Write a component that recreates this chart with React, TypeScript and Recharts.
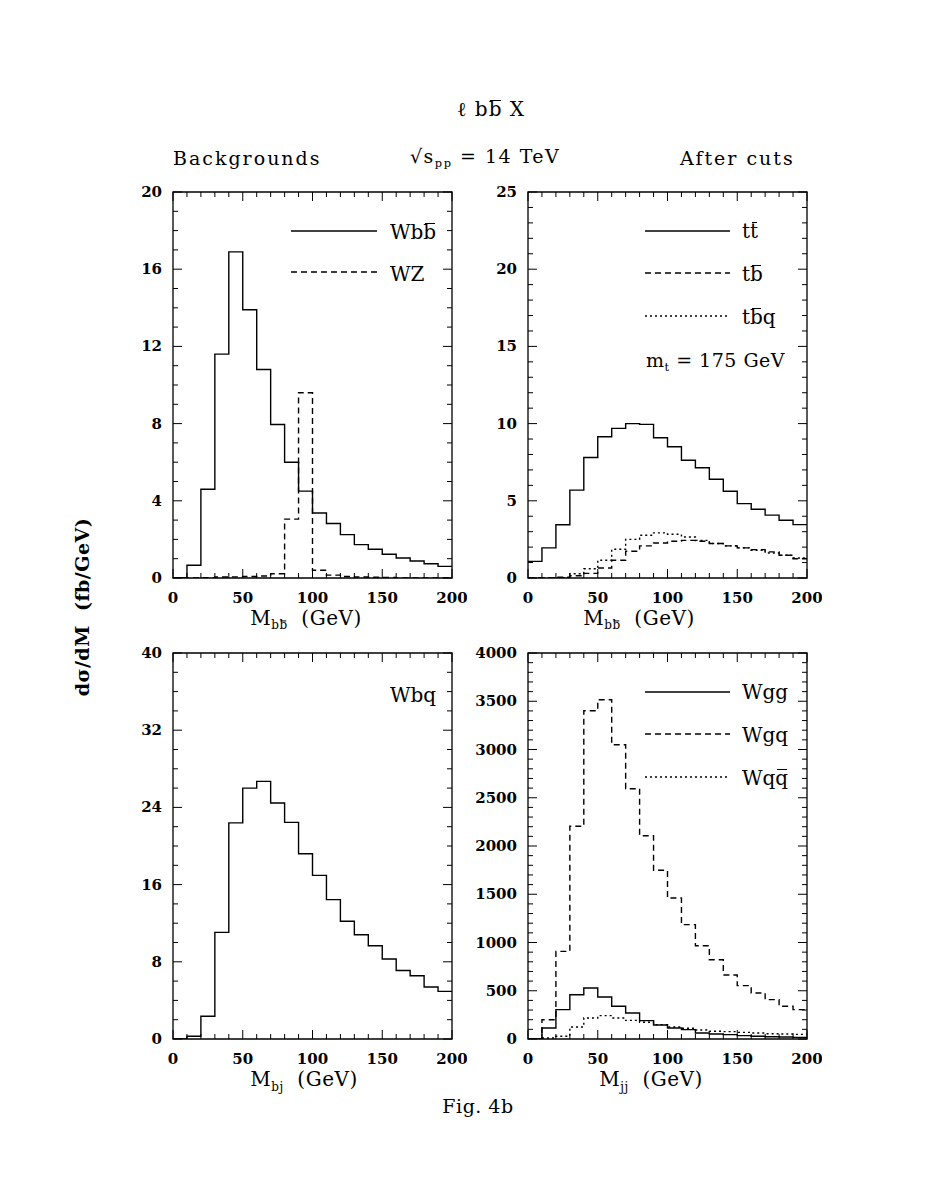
import React from 'react';
import { LineChart, Line, XAxis, YAxis, ReferenceArea } from 'recharts';

// bin lower edges (GeV), last entry closes the histogram at 200
const binEdges = [0, 10, 20, 30, 40, 50, 60, 70, 80, 90, 100, 110, 120, 130, 140, 150, 160, 170, 180, 190, 200];

// top left: Wbb and WZ (fb/GeV)
const wbbValues = [0, 0.66, 4.6, 11.6, 16.9, 13.9, 10.8, 7.95, 6.0, 4.5, 3.37, 2.82, 2.25, 1.73, 1.49, 1.23, 1.04, 0.88, 0.74, 0.6];
const wzValues = [0, 0, 0.02, 0.05, 0.06, 0.08, 0.1, 0.22, 3.05, 9.6, 0.4, 0.15, 0.08, 0.05, 0.04, 0.03, 0, 0, 0, 0];

// top right: tt, tb, tbq
const ttValues = [1.08, 1.95, 3.45, 5.69, 7.8, 9.15, 9.69, 10.0, 9.95, 9.08, 8.5, 7.63, 7.14, 6.4, 5.62, 4.82, 4.45, 4.07, 3.74, 3.46];
const tbValues = [0, 0, 0.05, 0.15, 0.3, 0.65, 1.15, 1.73, 2.08, 2.27, 2.38, 2.44, 2.38, 2.23, 2.08, 1.95, 1.84, 1.69, 1.47, 1.25];
const tbqValues = [0, 0, 0.02, 0.28, 0.6, 1.15, 1.86, 2.5, 2.77, 2.92, 2.83, 2.66, 2.44, 2.23, 2.08, 1.95, 1.8, 1.62, 1.47, 1.3];

// bottom left: Wbq
const wbqValues = [0, 0.28, 2.35, 11.05, 22.4, 26.0, 26.7, 24.45, 22.45, 19.2, 16.96, 14.44, 12.2, 10.8, 9.67, 8.29, 7.1, 6.56, 5.39, 4.94];

// bottom right: Wgg, Wgq, Wqq
const wggValues = [0, 114, 304, 459, 528, 435, 339, 269, 190, 145, 114, 97, 62, 52, 45, 35, 28, 24, 21, 17];
const wgqValues = [0, 200, 908, 2204, 3402, 3516, 3050, 2594, 2107, 1748, 1461, 1185, 967, 822, 663, 553, 477, 408, 339, 304];
const wqqValues = [0, 10, 28, 124, 218, 242, 218, 193, 173, 149, 124, 111, 93, 80, 76, 69, 62, 55, 52, 48];

// axis ticks
const xMajorTicks = [0, 50, 100, 150, 200];
const xMinorStep = 10;
const yTicksTL = [0, 4, 8, 12, 16, 20];
const yTicksTR = [0, 5, 10, 15, 20, 25];
const yTicksBL = [0, 8, 16, 24, 32, 40];
const yTicksBR = [0, 500, 1000, 1500, 2000, 2500, 3000, 3500, 4000];

const FONT = '"DejaVu Serif", "Liberation Serif", serif';
const PW = 279;
const PH = 386;
const ML = 70;
const MT = 15;
const MR = 15;
const MB = 35;

const stepsOf = (max: number, step: number) => {
  const out: number[] = [];
  for (let v = 0; v <= max + 1e-9; v += step) out.push(Math.round(v * 1000) / 1000);
  return out;
};

const toRows = (series: Record<string, (number | null)[]>) =>
  binEdges.map((x, i) => {
    const row: any = { x };
    Object.keys(series).forEach((k) => {
      row[k] = series[k][Math.min(i, series[k].length - 1)];
    });
    return row;
  });

type SeriesDef = { key: string; values: (number | null)[]; dash?: string };

const Panel = ({ left, top, yTicks, yMinor, series }: { left: number; top: number; yTicks: number[]; yMinor: number; series: SeriesDef[] }) => {
  const yMax = yTicks[yTicks.length - 1];
  const rows = toRows(Object.fromEntries(series.map((s) => [s.key, s.values])));
  const plotB = MT + PH;
  const plotR = ML + PW;

  const xTick = (p: any) => {
    const v = p.payload.value;
    const major = xMajorTicks.includes(v);
    const len = major ? 9 : 5;
    return (
      <g>
        <line x1={p.x} x2={p.x} y1={plotB} y2={plotB - len} stroke="#000" strokeWidth={1} />
        <line x1={p.x} x2={p.x} y1={MT} y2={MT + len} stroke="#000" strokeWidth={1} />
        {major && (
          <text x={p.x} y={plotB + 20} textAnchor="middle" dominantBaseline="central" fontFamily={FONT} fontWeight="bold" fontSize={15} fill="#000">
            {v}
          </text>
        )}
      </g>
    );
  };

  const yTick = (p: any) => {
    const v = p.payload.value;
    const major = yTicks.includes(v);
    const len = major ? 9 : 5;
    return (
      <g>
        <line x1={ML} x2={ML + len} y1={p.y} y2={p.y} stroke="#000" strokeWidth={1} />
        <line x1={plotR} x2={plotR - len} y1={p.y} y2={p.y} stroke="#000" strokeWidth={1} />
        {major && (
          <text x={ML - 11} y={p.y} textAnchor="end" dominantBaseline="central" fontFamily={FONT} fontWeight="bold" fontSize={15} fill="#000">
            {v}
          </text>
        )}
      </g>
    );
  };

  return (
    <div style={{ position: 'absolute', left: left - ML, top: top - MT }}>
      <LineChart width={ML + PW + MR} height={MT + PH + MB} data={rows} margin={{ top: MT, right: MR, left: 0, bottom: 0 }}>
        <XAxis dataKey="x" type="number" domain={[0, 200]} ticks={stepsOf(200, xMinorStep)} interval={0} tickLine={false} axisLine={false} height={MB} tick={xTick} allowDataOverflow />
        <YAxis type="number" domain={[0, yMax]} ticks={stepsOf(yMax, yMinor)} interval={0} tickLine={false} axisLine={false} width={ML} tick={yTick} allowDataOverflow />
        <ReferenceArea x1={0} x2={200} y1={0} y2={yMax} fill="none" stroke="#000" strokeWidth={1.3} ifOverflow="visible" />
        {series.map((s) => (
          <Line
            key={s.key}
            type="stepAfter"
            dataKey={s.key}
            stroke="#000"
            strokeWidth={1.4}
            strokeDasharray={s.dash}
            dot={false}
            activeDot={false}
            isAnimationActive={false}
          />
        ))}
      </LineChart>
    </div>
  );
};

const Txt = ({ x, y, size = 19, bold = false, anchor = 'left', spacing = 0, children }: any) => (
  <div
    style={{
      position: 'absolute',
      left: x,
      top: y,
      transform: anchor === 'center' ? 'translate(-50%, -50%)' : 'translate(0, -50%)',
      fontFamily: FONT,
      fontSize: size,
      fontWeight: bold ? 'bold' : 'normal',
      letterSpacing: spacing,
      lineHeight: 1,
      whiteSpace: 'nowrap',
      color: '#000',
    }}
  >
    {children}
  </div>
);

// letter with a bar just above it
const bar = (c: string) => (
  <span style={{ position: 'relative', display: 'inline-block' }}>
    {c}
    <span style={{ position: 'absolute', left: '0.08em', right: '0.08em', top: '0.06em', borderTop: '1.5px solid #000' }} />
  </span>
);
const sub = (c: React.ReactNode) => <sub style={{ fontSize: '0.6em', verticalAlign: '-0.35em' }}>{c}</sub>;

// legend sample lines: [x1, x2, y, dash]
const legendLines: [number, number, number, string | undefined][] = [
  [291, 377, 231, undefined],
  [291, 377, 272, '6 4'],
  [645, 730, 231, undefined],
  [645, 730, 273, '6 4'],
  [645, 730, 316, '2 3'],
  [645, 730, 692, undefined],
  [645, 730, 734, '6 4'],
  [645, 730, 777, '2 3'],
];

export default function App() {
  return (
    <div style={{ position: 'absolute', left: 0, top: 0, width: 927, height: 1199, background: '#fff', overflow: 'hidden' }}>
      <Panel left={173} top={192} yTicks={yTicksTL} yMinor={1} series={[{ key: 'wbb', values: wbbValues }, { key: 'wz', values: wzValues, dash: '6 4' }]} />
      <Panel left={528} top={192} yTicks={yTicksTR} yMinor={1} series={[{ key: 'tt', values: ttValues }, { key: 'tb', values: tbValues, dash: '6 4' }, { key: 'tbq', values: tbqValues, dash: '2 3' }]} />
      <Panel left={173} top={653} yTicks={yTicksBL} yMinor={2} series={[{ key: 'wbq', values: wbqValues }]} />
      <Panel left={528} top={653} yTicks={yTicksBR} yMinor={100} series={[{ key: 'wgg', values: wggValues }, { key: 'wgq', values: wgqValues, dash: '6 4' }, { key: 'wqq', values: wqqValues, dash: '2 3' }]} />

      <svg width={927} height={1199} style={{ position: 'absolute', left: 0, top: 0, pointerEvents: 'none' }}>
        {legendLines.map(([x1, x2, y, d], i) => (
          <line key={i} x1={x1} x2={x2} y1={y} y2={y} stroke="#000" strokeWidth={1.4} strokeDasharray={d} />
        ))}
      </svg>

      <Txt x={491} y={109} size={20} anchor="center" spacing={1}>ℓ b{bar('b')} X</Txt>
      <Txt x={173} y={158} spacing={2}>Backgrounds</Txt>
      <Txt x={410} y={158} spacing={1.5}>√s{sub('pp')} = 14 TeV</Txt>
      <Txt x={680} y={158} spacing={2}>After cuts</Txt>

      <Txt x={390} y={232} size={20}>Wb{bar('b')}</Txt>
      <Txt x={390} y={274} size={20}>WZ</Txt>

      <Txt x={742} y={231} size={20}>t{bar('t')}</Txt>
      <Txt x={742} y={274} size={20}>t{bar('b')}</Txt>
      <Txt x={742} y={317} size={20}>t{bar('b')}q</Txt>
      <Txt x={646} y={362} size={19} spacing={0.5}>m{sub('t')} = 175 GeV</Txt>

      <Txt x={390} y={695} size={20}>Wbq</Txt>

      <Txt x={742} y={692} size={20}>Wgg</Txt>
      <Txt x={742} y={735} size={20}>Wgq</Txt>
      <Txt x={742} y={778} size={20}>Wq{bar('q')}</Txt>

      <Txt x={306} y={620} size={20} anchor="center" spacing={0.5}>M{sub(<>b{bar('b')}</>)}&nbsp;&nbsp;(GeV)</Txt>
      <Txt x={639} y={620} size={20} anchor="center" spacing={0.5}>M{sub(<>b{bar('b')}</>)}&nbsp;&nbsp;(GeV)</Txt>
      <Txt x={304} y={1081} size={20} anchor="center" spacing={0.5}>M{sub('bj')}&nbsp;&nbsp;(GeV)</Txt>
      <Txt x={651} y={1081} size={20} anchor="center" spacing={0.5}>M{sub('jj')}&nbsp;&nbsp;(GeV)</Txt>
      <Txt x={478} y={1106} size={19} anchor="center" spacing={0.5}>Fig. 4b</Txt>

      <div
        style={{
          position: 'absolute',
          left: 82,
          top: 607,
          transform: 'translate(-50%, -50%) rotate(-90deg)',
          fontFamily: FONT,
          fontSize: 19,
          fontWeight: 'bold',
          lineHeight: 1,
          whiteSpace: 'nowrap',
          letterSpacing: 0.5,
        }}
      >
        dσ/dM&nbsp;&nbsp;(fb/GeV)
      </div>
    </div>
  );
}
